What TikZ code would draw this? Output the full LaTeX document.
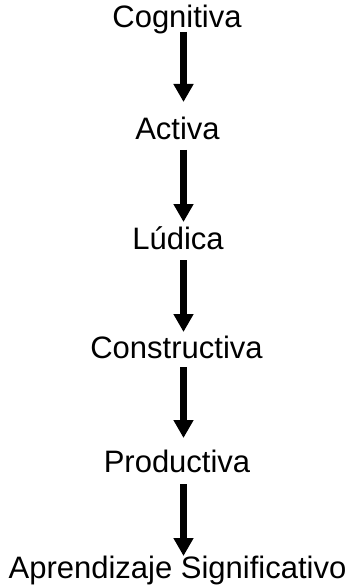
\documentclass[tikz,border=0pt]{standalone}
\usepackage{fontspec}
\setmainfont{Liberation Sans}
\usetikzlibrary{arrows.meta,calc}
\begin{document}
\begin{tikzpicture}[x=1pt,y=1pt,
  label/.style={anchor=base,inner sep=0pt,font=\fontsize{31}{36}\selectfont},
  flow/.style={line width=7pt,-{Triangle[width=19pt,length=18pt]}}]
\useasboundingbox (0,0) rectangle (352,-585);
\node[label] (cog) at (177,-27.5) {Cognitiva};
\node[label] (act) at (177.5,-140) {Activa};
\node[label] (lud) at (178,-249) {Lúdica};
\node[label] (con) at (176.5,-358) {Constructiva};
\node[label] (pro) at (177,-472) {Productiva};
\node[label] (apr) at (177.5,-578) {Aprendizaje Significativo};
% arrows between consecutive stages
\draw[flow] ($(cog.base)+(6.5,-4.5)$) -- ($(act.base)+(6,38)$);
\draw[flow] ($(act.base)+(6,-10)$) -- ($(lud.base)+(5.5,27)$);
\draw[flow] ($(lud.base)+(5.5,-11)$) -- ($(con.base)+(7,26)$);
\draw[flow] ($(con.base)+(7,-9)$) -- ($(pro.base)+(6.5,34)$);
\draw[flow] ($(pro.base)+(6.5,-12)$) -- ($(apr.base)+(6,22)$);
\end{tikzpicture}
\end{document}
